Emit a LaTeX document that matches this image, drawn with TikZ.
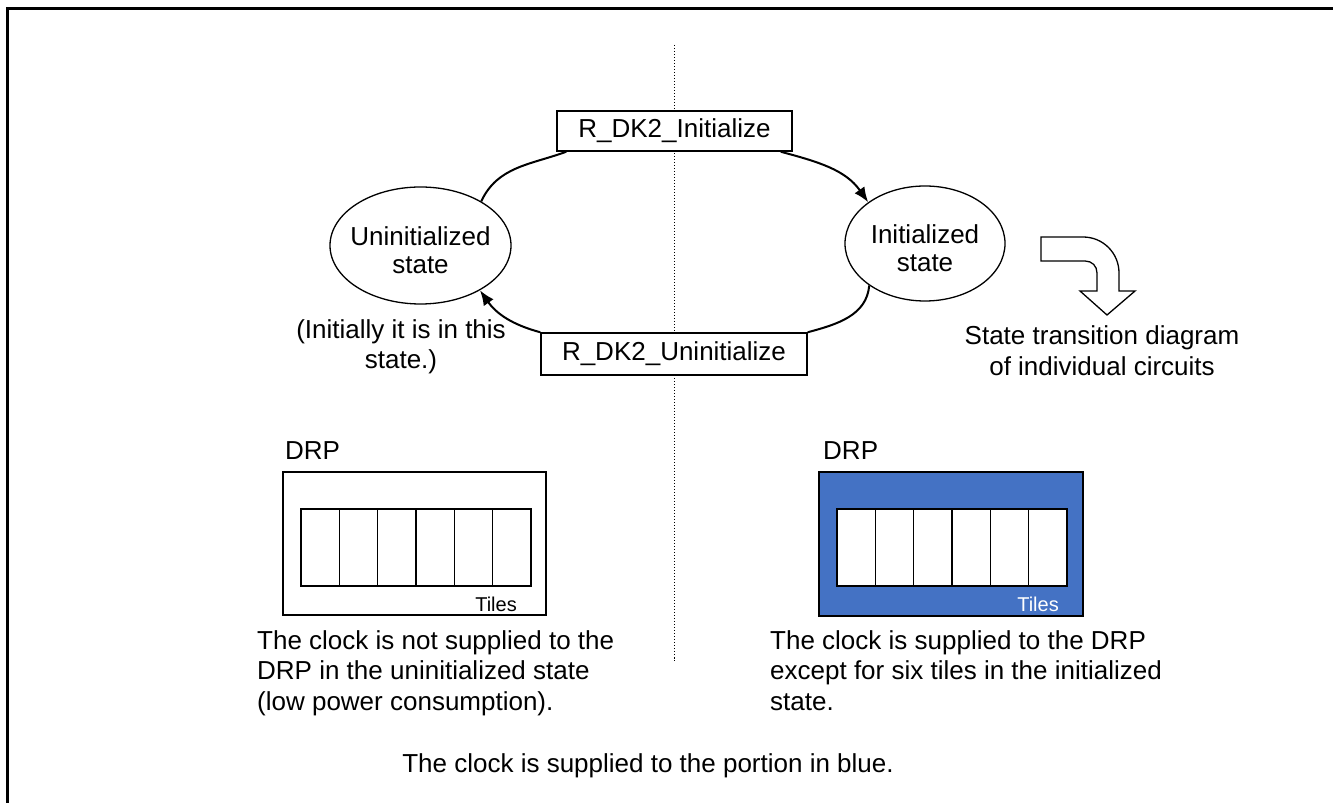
\documentclass[tikz,border=0pt]{standalone}
\usepackage{fontspec}
\setmainfont{Liberation Sans}
\usetikzlibrary{shapes.geometric}
\usetikzlibrary{arrows.meta}
\definecolor{clkblue}{HTML}{4472C4}

\begin{document}
\begin{tikzpicture}[x=1pt,y=1pt,
	txt/.style={inner sep=0pt,font=\fontsize{26}{30.5}\selectfont},
	state/.style={draw,ellipse,line width=1.3pt,inner sep=0pt,align=center,text height=57pt,font=\fontsize{26}{28}\selectfont},
	func/.style={draw,rectangle,fill=white,line width=1.5pt,inner sep=0pt,font=\fontsize{26}{30}\selectfont},
	trans/.style={line width=2pt},
	tile/.style={draw,fill=white,line width=1.5pt},
	tilename/.style={inner sep=0pt,anchor=base east,font=\fontsize{20}{24}\selectfont}]
\useasboundingbox (0,0) rectangle (1333,803);
		\draw[line width=3pt] (7,-10) -- (7,794) -- (1345,794);
		\draw[line width=1pt,dash pattern=on 1.5pt off 1.5pt] (674,758) -- (674,142);
		% states
		\node[state,minimum width=181,minimum height=117,inner xsep=-8pt] (uninit) at (420.5,557.5) {Uninitialized\\state};
		\node[state,minimum width=160,minimum height=115] (init) at (925,559.5) {Initialized\\state};
		\node[func,minimum width=235,minimum height=40] (initfn) at (674.5,672) {R\_DK2\_Initialize};
		\node[func,minimum width=266,minimum height=42] (uninitfn) at (674,449) {R\_DK2\_Uninitialize};
		% transitions
		\draw[trans] (uninit.36) to[out=65,in=200] ([xshift=10pt]initfn.south west);
		\draw[trans,-{Latex[length=15pt,width=12pt]}] ([xshift=-12pt]initfn.south east) to[out=-15,in=125] (init.144);
		\draw[trans] (init.217) to[out=-95,in=15] (uninitfn.north east);
		\draw[trans,-{Latex[length=15pt,width=12pt]}] (uninitfn.north west) to[out=165,in=-55] (uninit.323);
		\node[txt,align=center] (start) at (401,456) {(Initially it is in this\\state.)};
		% curved block arrow
		\draw[line width=1.3pt] (1041,566) -- (1083,566) .. controls (1103,566) and (1119,550) .. (1119,530)
			-- (1119,512) -- (1135,512) -- (1107,488) -- (1080,512) -- (1097,512) -- (1097,530)
			.. controls (1097,537) and (1092,542) .. (1085,542) -- (1041,542) -- cycle;
		\node[txt,align=center] (legend) at (1102,452.5) {State transition diagram\\of individual circuits};
		% DRP before initialization
		\node[txt,anchor=base west] (drpL) at (285,343) {DRP};
		\draw[line width=1.3pt] (283,188) rectangle (546,331);
		\foreach \i in {0,...,5}
			\draw[tile] (301+\i*38.33,217) rectangle ++(38.33,77);
		\node[tilename] (tilesL) at (517,191) {Tiles};
		\node[txt,align=left,anchor=north west] (noteL) at (257,173) {The clock is not supplied to the\\DRP in the uninitialized state\\(low power consumption).};
		% DRP after initialization
		\node[txt,anchor=base west] (drpR) at (823,343) {DRP};
		\draw[line width=1.3pt,fill=clkblue] (819,187) rectangle (1083,331);
		\foreach \i in {0,...,5}
			\draw[tile] (837+\i*38.33,217) rectangle ++(38.33,77);
		\node[tilename,text=white] (tilesR) at (1059,191) {Tiles};
		\node[txt,align=left,anchor=north west] (noteR) at (770,173) {The clock is supplied to the DRP\\except for six tiles in the initialized\\state.};
		\node[txt] (footer) at (648,37) {The clock is supplied to the portion in blue.};
\end{tikzpicture}
\end{document}
